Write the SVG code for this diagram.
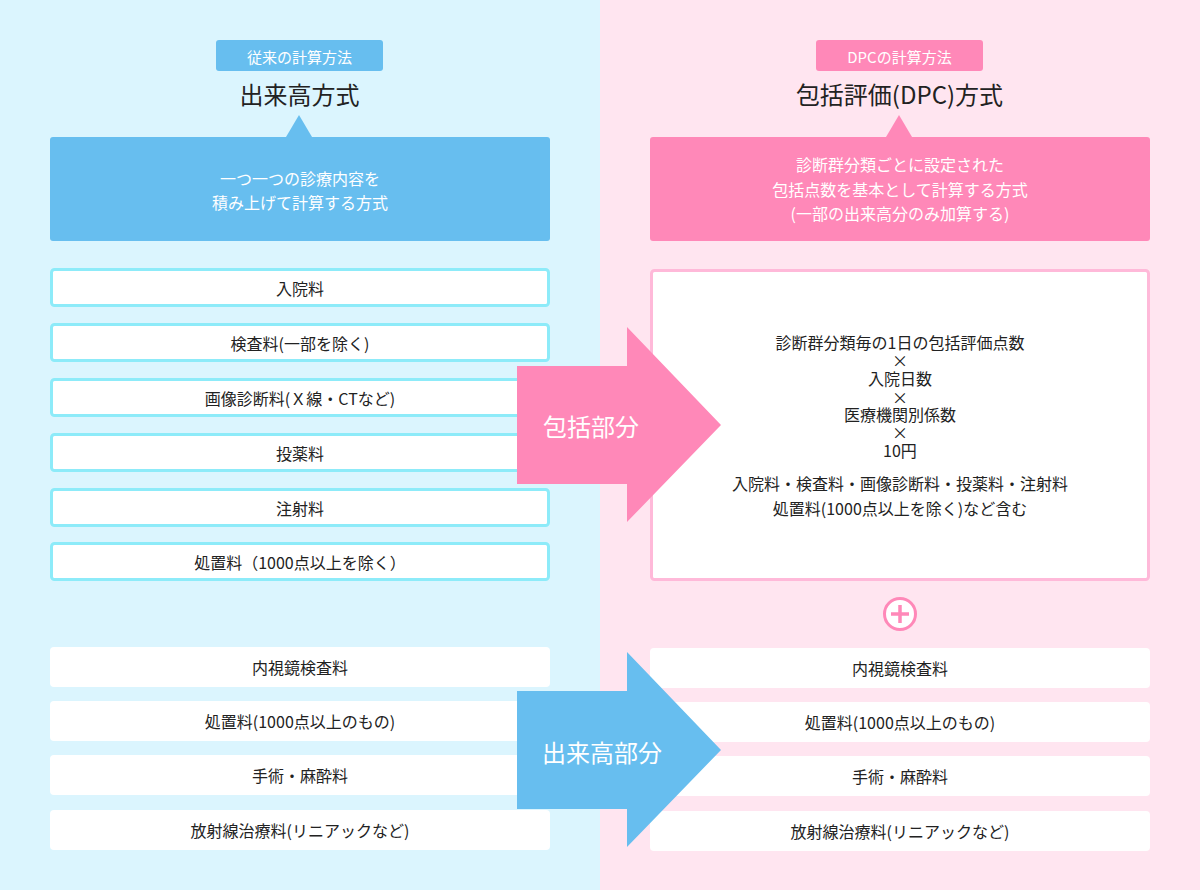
<svg xmlns="http://www.w3.org/2000/svg" width="1200" height="890" viewBox="0 0 1200 890">
<style>
text{font-family:"Noto Sans CJK JP","Noto Sans",sans-serif;text-anchor:middle;dominant-baseline:central}
.w{fill:#fff}
.d{fill:#222}
.s16{font-size:16px}
.s15{font-size:15px}
.t{font-size:24px;fill:#222}
.cy{fill:#fff;stroke:#8DEBF9;stroke-width:3}
.wb{fill:#fff}
</style>
<rect x="0" y="0" width="600" height="890" fill="#DBF5FE"/>
<rect x="600" y="0" width="600" height="890" fill="#FFE5F0"/>

<g id="left-header">
<rect x="216" y="40" width="167" height="31" rx="3" fill="#67BEEF"/>
<text x="299.5" y="56" class="w s15">従来の計算方法</text>
<text x="299.5" y="93" class="t">出来高方式</text>
</g>
<g id="right-header">
<rect x="816" y="40" width="167" height="31" rx="3" fill="#FF88B8"/>
<text x="899.5" y="56" class="w s15">DPCの計算方法</text>
<text x="899.5" y="93" class="t">包括評価(DPC)方式</text>
</g>

<g id="left-desc">
<path d="M286 137 L299 115 L312 137 Z" fill="#67BEEF"/>
<rect x="50" y="137" width="500" height="104" rx="3" fill="#67BEEF"/>
<text x="300" y="178" class="w s16">一つ一つの診療内容を</text>
<text x="300" y="202" class="w s16">積み上げて計算する方式</text>
</g>
<g id="right-desc">
<path d="M886 137 L899 115 L912 137 Z" fill="#FF88B8"/>
<rect x="650" y="137" width="500" height="104" rx="3" fill="#FF88B8"/>
<text x="900" y="164" class="w s16">診断群分類ごとに設定された</text>
<text x="900" y="189" class="w s16">包括点数を基本として計算する方式</text>
<text x="900" y="213" class="w s16">(一部の出来高分のみ加算する)</text>
</g>

<g id="left-list">
<rect x="51.5" y="269.5" width="497" height="36" rx="3" class="cy"/>
<text x="300" y="288" class="d s16">入院料</text>
<rect x="51.5" y="324.5" width="497" height="36" rx="3" class="cy"/>
<text x="300" y="343" class="d s16">検査料(一部を除く)</text>
<rect x="51.5" y="379.5" width="497" height="36" rx="3" class="cy"/>
<text x="300" y="398" class="d s16">画像診断料(Ｘ線・CTなど)</text>
<rect x="51.5" y="434.5" width="497" height="36" rx="3" class="cy"/>
<text x="300" y="453" class="d s16">投薬料</text>
<rect x="51.5" y="489.5" width="497" height="36" rx="3" class="cy"/>
<text x="300" y="508" class="d s16">注射料</text>
<rect x="51.5" y="543.5" width="497" height="36" rx="3" class="cy"/>
<text x="300" y="562" class="d s16">処置料（1000点以上を除く）</text>
</g>

<g id="right-dpc">
<rect x="651.5" y="270.5" width="497" height="309" rx="3" fill="#fff" stroke="#FFB9D9" stroke-width="3"/>
<text x="900" y="342" class="d s16">診断群分類毎の1日の包括評価点数</text>
<text x="900" y="360" class="d s16">×</text>
<text x="900" y="378" class="d s16">入院日数</text>
<text x="900" y="397" class="d s16">×</text>
<text x="900" y="414" class="d s16">医療機関別係数</text>
<text x="900" y="432" class="d s16">×</text>
<text x="900" y="450" class="d s16">10円</text>
<text x="900" y="483" class="d s16">入院料・検査料・画像診断料・投薬料・注射料</text>
<text x="900" y="508" class="d s16">処置料(1000点以上を除く)など含む</text>
</g>

<g id="plus">
<circle cx="900" cy="614" r="15.5" fill="#fff" stroke="#FF88B8" stroke-width="3"/>
<path d="M891 614 H909 M900 605 V623" stroke="#FF88B8" stroke-width="3.5"/>
</g>

<g id="left-bottom">
<rect x="50" y="647" width="500" height="40" rx="4" class="wb"/>
<text x="300" y="667" class="d s16">内視鏡検査料</text>
<rect x="50" y="701" width="500" height="40" rx="4" class="wb"/>
<text x="300" y="721" class="d s16">処置料(1000点以上のもの)</text>
<rect x="50" y="755" width="500" height="40" rx="4" class="wb"/>
<text x="300" y="775" class="d s16">手術・麻酔料</text>
<rect x="50" y="810" width="500" height="40" rx="4" class="wb"/>
<text x="300" y="830" class="d s16">放射線治療料(リニアックなど)</text>
</g>

<g id="right-bottom">
<rect x="650" y="648" width="500" height="40" rx="4" class="wb"/>
<text x="900" y="668" class="d s16">内視鏡検査料</text>
<rect x="650" y="702" width="500" height="40" rx="4" class="wb"/>
<text x="900" y="722" class="d s16">処置料(1000点以上のもの)</text>
<rect x="650" y="756" width="500" height="40" rx="4" class="wb"/>
<text x="900" y="776" class="d s16">手術・麻酔料</text>
<rect x="650" y="811" width="500" height="40" rx="4" class="wb"/>
<text x="900" y="831" class="d s16">放射線治療料(リニアックなど)</text>
</g>

<g id="connectors">
<g id="arrow-hokatsu">
<path d="M517 366 H627 V327 L721 425 L627 522 V484 H517 Z" fill="#FF88B8"/>
<text x="591" y="425" class="w" font-size="24">包括部分</text>
</g>
<g id="arrow-dekidaka">
<path d="M517 691 H627 V652 L721 750 L627 847 V809 H517 Z" fill="#67BEEF"/>
<text x="602" y="751" class="w" font-size="24">出来高部分</text>
</g>
</g>
</svg>
